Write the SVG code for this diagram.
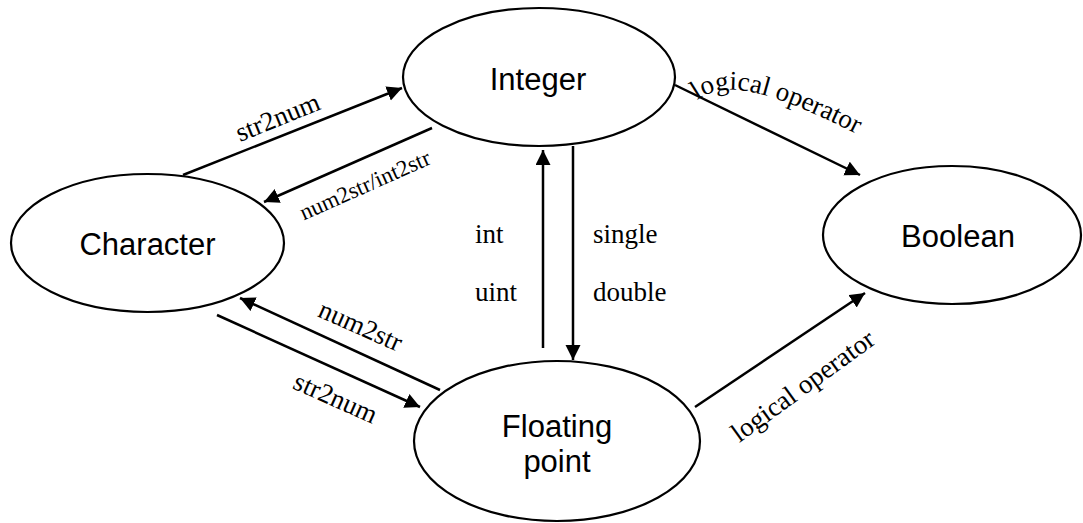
<svg xmlns="http://www.w3.org/2000/svg" xmlns:xlink="http://www.w3.org/1999/xlink" width="1083" height="523" viewBox="0 0 1083 523">
  <style>
    .node ellipse { fill: #ffffff; stroke: #000000; stroke-width: 2.2; }
    .node text { font-family: "Liberation Sans", Arial, sans-serif; font-size: 31px; fill: #000000; text-anchor: middle; }
    .edge { stroke: #000000; stroke-width: 2.5; fill: none; marker-end: url(#arrow); }
    .lbl { font-family: "Liberation Serif", "Times New Roman", serif; font-size: 27px; fill: #000000; }
  </style>
  <defs>
    <marker id="arrow" markerUnits="userSpaceOnUse" markerWidth="16" markerHeight="16" refX="15" refY="7.5" orient="auto">
      <path d="M0,0 L15,7.5 L0,15 Z" fill="#000000"/>
    </marker>
    <path id="topLogical" d="M 697 100 C 725 80, 765 86, 880 146"/>
  </defs>

  <g id="connectors">
    <line class="edge" x1="183" y1="175" x2="402" y2="88"/>
    <line class="edge" x1="432" y1="128" x2="264" y2="202"/>
    <line class="edge" x1="675" y1="85" x2="860" y2="175"/>
    <line class="edge" x1="695" y1="407" x2="865" y2="293"/>
    <line class="edge" x1="440" y1="390" x2="240" y2="298"/>
    <line class="edge" x1="217" y1="315" x2="420" y2="407"/>
    <line class="edge" x1="543" y1="348" x2="543" y2="150"/>
    <line class="edge" x1="573" y1="146" x2="573" y2="360"/>
  </g>

  <g id="edge-labels">
    <text class="lbl" text-anchor="middle" transform="translate(281,125.5) rotate(-22)">str2num</text>
    <text class="lbl" text-anchor="middle" style="font-size:23px" transform="translate(368,192) rotate(-24)">num2str/int2str</text>
    <text class="lbl" text-anchor="middle" transform="translate(357,334) rotate(24)">num2str</text>
    <text class="lbl" text-anchor="middle" transform="translate(332,406) rotate(24)">str2num</text>
    <text class="lbl" x="475" y="243">int</text>
    <text class="lbl" x="475" y="301">uint</text>
    <text class="lbl" x="593" y="243">single</text>
    <text class="lbl" x="593" y="301">double</text>
    <text class="lbl"><textPath xlink:href="#topLogical" href="#topLogical">logical operator</textPath></text>
    <text class="lbl" text-anchor="middle" transform="translate(808,393) rotate(-36)">logical operator</text>
  </g>

  <g id="node-integer" class="node">
    <ellipse cx="539" cy="77" rx="136" ry="69"/>
    <text x="538" y="90">Integer</text>
  </g>
  <g id="node-character" class="node">
    <ellipse cx="147.5" cy="243" rx="136.5" ry="69"/>
    <text x="147.5" y="255">Character</text>
  </g>
  <g id="node-boolean" class="node">
    <ellipse cx="952" cy="235" rx="129" ry="69"/>
    <text x="958" y="247">Boolean</text>
  </g>
  <g id="node-floating" class="node">
    <ellipse cx="557" cy="441" rx="143" ry="80"/>
    <text x="557" y="437">Floating</text>
    <text x="557" y="472">point</text>
  </g>
</svg>
